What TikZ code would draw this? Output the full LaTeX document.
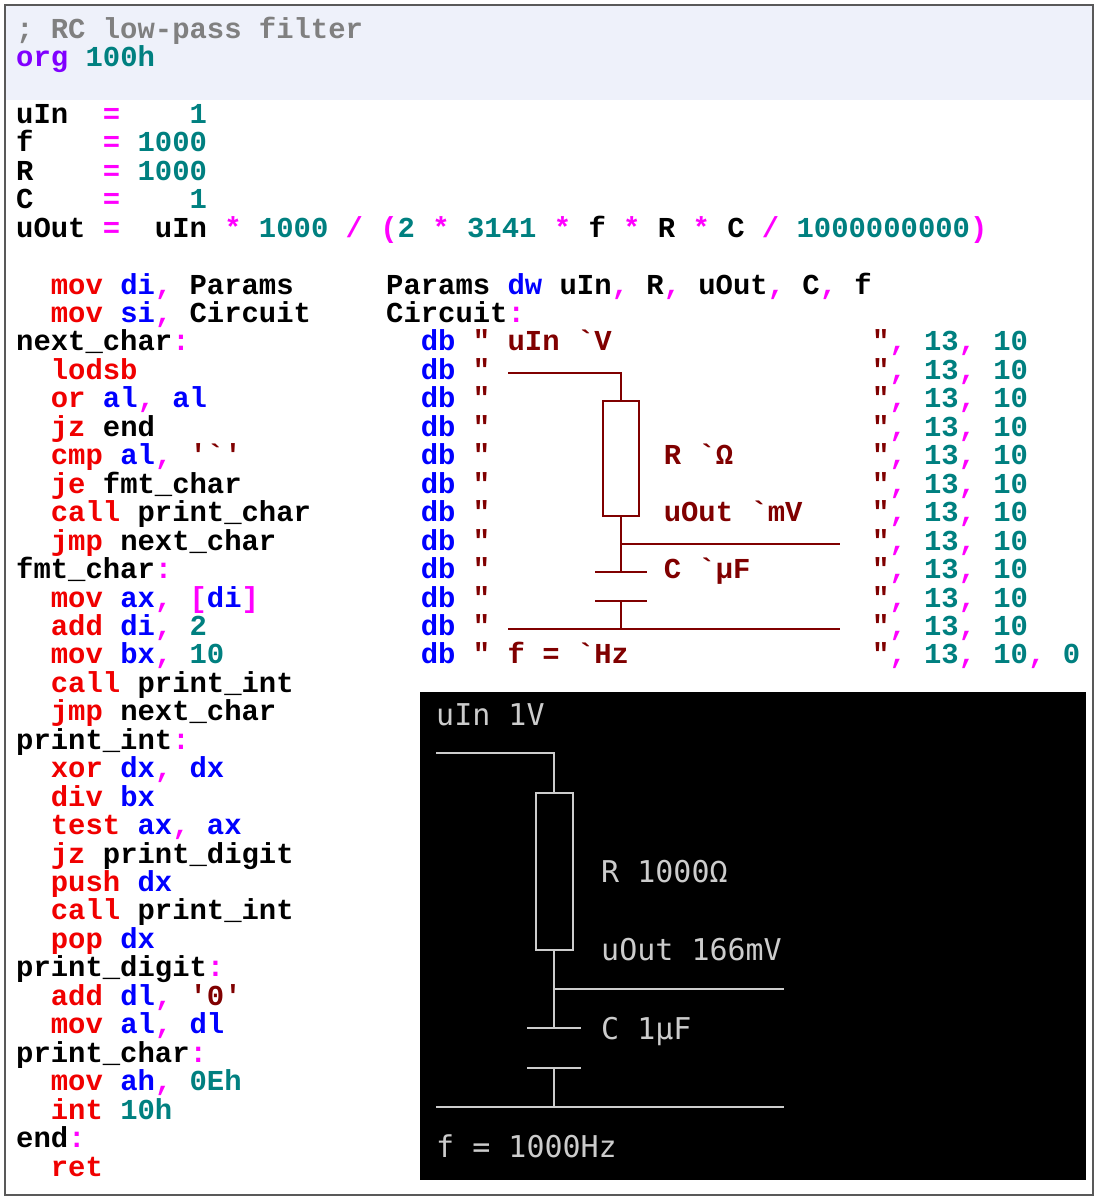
\documentclass[tikz,border=0pt]{standalone}
\usepackage{fontspec}
\newfontfamily\codefont{Liberation Mono Bold}
\newfontfamily\consfont{DejaVu Sans Mono}
\definecolor{kwc}{HTML}{F00000}
\definecolor{rgc}{HTML}{0000FF}
\definecolor{nmc}{HTML}{008080}
\definecolor{puc}{HTML}{FF00FF}
\definecolor{stc}{HTML}{800000}
\definecolor{cmc}{HTML}{808080}
\definecolor{orgc}{HTML}{8000FF}
\definecolor{hdr}{HTML}{EEF1FA}
\definecolor{term}{HTML}{0C0C0C}
\definecolor{termtxt}{HTML}{CCCCCC}
\newcommand\kw[1]{\textcolor{kwc}{#1}}
\newcommand\rg[1]{\textcolor{rgc}{#1}}
\newcommand\nm[1]{\textcolor{nmc}{#1}}
\newcommand\pu[1]{\textcolor{puc}{#1}}
\newcommand\stq[1]{\textcolor{stc}{#1}}
\begin{document}
\begin{tikzpicture}[x=1pt,y=-1pt,
  code/.style={anchor=base west,inner sep=0pt,font=\codefont\fontsize{28.9}{28.9}\selectfont},
  term/.style={anchor=base west,inner sep=0pt,text=termtxt,font=\consfont\fontsize{30}{30}\selectfont},
  wire/.style={stc,line width=2pt},
  twire/.style={termtxt,line width=2pt}]
\def\cw{17.35}
\useasboundingbox (0,0) rectangle (1098,1200);
\fill[white] (0,0) rectangle (1098,1200);
\fill[hdr] (6,6) rectangle (1092,100);
\draw[gray!70!black,line width=1.5pt] (5,5) rectangle (1093,1195);
% left column
\foreach \n/\t [count=\i] in {
 1/{\textcolor{cmc}{; RC low-pass filter}},
 2/{\textcolor{orgc}{org} \nm{100h}},
 4/{uIn~~\pu{=}~~~~\nm{1}},
 5/{f~~~~\pu{=} \nm{1000}},
 6/{R~~~~\pu{=} \nm{1000}},
 7/{C~~~~\pu{=}~~~~\nm{1}},
 8/{uOut \pu{=}~~uIn \pu{*} \nm{1000} \pu{/} \pu{(}\nm{2} \pu{*} \nm{3141} \pu{*} f \pu{*} R \pu{*} C \pu{/} \nm{1000000000}\pu{)}},
 10/{~~\kw{mov} \rg{di}\pu{,} Params},
 11/{~~\kw{mov} \rg{si}\pu{,} Circuit},
 12/{next\_char\pu{:}},
 13/{~~\kw{lodsb}},
 14/{~~\kw{or} \rg{al}\pu{,} \rg{al}},
 15/{~~\kw{jz} end},
 16/{~~\kw{cmp} \rg{al}\pu{,} \stq{'`'}},
 17/{~~\kw{je} fmt\_char},
 18/{~~\kw{call} print\_char},
 19/{~~\kw{jmp} next\_char},
 20/{fmt\_char\pu{:}},
 21/{~~\kw{mov} \rg{ax}\pu{,} \pu{[}\rg{di}\pu{]}},
 22/{~~\kw{add} \rg{di}\pu{,} \nm{2}},
 23/{~~\kw{mov} \rg{bx}\pu{,} \nm{10}},
 24/{~~\kw{call} print\_int},
 25/{~~\kw{jmp} next\_char},
 26/{print\_int\pu{:}},
 27/{~~\kw{xor} \rg{dx}\pu{,} \rg{dx}},
 28/{~~\kw{div} \rg{bx}},
 29/{~~\kw{test} \rg{ax}\pu{,} \rg{ax}},
 30/{~~\kw{jz} print\_digit},
 31/{~~\kw{push} \rg{dx}},
 32/{~~\kw{call} print\_int},
 33/{~~\kw{pop} \rg{dx}},
 34/{print\_digit\pu{:}},
 35/{~~\kw{add} \rg{dl}\pu{,} \stq{'0'}},
 36/{~~\kw{mov} \rg{al}\pu{,} \rg{dl}},
 37/{print\_char\pu{:}},
 38/{~~\kw{mov} \rg{ah}\pu{,} \nm{0Eh}},
 39/{~~\kw{int} \nm{10h}},
 40/{end\pu{:}},
 41/{~~\kw{ret}}}
 \node[code] (L\i) at (16,{38+(\n-1)*28.45}) {\t};
% right column
\node[code] (p1) at (386,{38+9*28.45}) {Params \rg{dw} uIn\pu{,} R\pu{,} uOut\pu{,} C\pu{,} f};
\node[code] (p2) at (386,{38+10*28.45}) {Circuit\pu{:}};
\foreach \k in {11,...,22}{
  \node[code] (db\k) at (386,{38+\k*28.45}) {~~\rg{db} \stq{"}};
  \node[code] (dq\k) at ({386+28*\cw},{38+\k*28.45}) {\stq{"}\pu{,} \nm{13}\pu{,} \nm{10}\ifnum\k=22 \pu{,} \nm{0}\fi};
}
\node[code] (s1) at ({386+7*\cw},{38+11*28.45}) {\stq{uIn `V}};
\node[code] (s2) at ({386+16*\cw},{38+15*28.45}) {\stq{R `Ω}};
\node[code] (s3) at ({386+16*\cw},{38+17*28.45}) {\stq{uOut `mV}};
\node[code] (s4) at ({386+16*\cw},{38+19*28.45}) {\stq{C `µF}};
\node[code] (s5) at ({386+7*\cw},{38+22*28.45}) {\stq{f = `Hz}};
% red circuit
\coordinate (a1) at (508,373); \coordinate (a2) at (621,373);
\coordinate (a3) at (621,544); \coordinate (a4) at (840,544);
\coordinate (a5) at (621,572); \coordinate (a6) at (621,601);
\coordinate (a7) at (621,629); \coordinate (a8) at (508,629); \coordinate (a9) at (840,629);
\draw[wire] (a1) -- (a2) -- (621,401);
\draw[wire] (603,401) rectangle (639,516);
\draw[wire] (621,516) -- (a5);
\draw[wire] (a3) -- (a4);
\draw[wire] (595,572) -- (647,572);
\draw[wire] (595,601) -- (647,601);
\draw[wire] (a6) -- (a7);
\draw[wire] (a8) -- (a9);
% terminal
\fill[term] (420,692) rectangle (1086,1180);
\node[term] (t1) at (436,725) {uIn 1V};
\node[term] (t2) at (601,882) {R 1000Ω};
\node[term] (t3) at (601,960) {uOut 166mV};
\node[term] (t4) at (601,1039) {C 1µF};
\node[term] (t5) at (436,1157) {f = 1000Hz};
\draw[twire] (436,753) -- (554,753) -- (554,793);
\draw[twire] (536,793) rectangle (573,950);
\draw[twire] (554,950) -- (554,1028);
\draw[twire] (554,989) -- (784,989);
\draw[twire] (527,1028) -- (581,1028);
\draw[twire] (527,1068) -- (581,1068);
\draw[twire] (554,1068) -- (554,1107);
\draw[twire] (436,1107) -- (784,1107);
\end{tikzpicture}
\end{document}
